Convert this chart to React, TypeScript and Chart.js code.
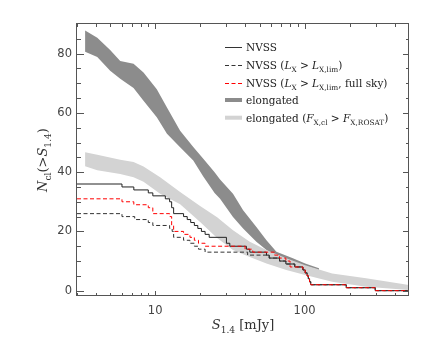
import React, { useEffect, useRef } from 'react';
import { Chart, registerables } from 'chart.js';

Chart.register(...registerables);

// ---------- data ----------
const X_MIN = 3;
const X_MAX = 500;
const Y_MIN = -1.8;
const Y_MAX = 90;

const X_TICK_LABELS = [10, 100];
const X_MINOR = [3, 4, 5, 6, 7, 8, 9, 20, 30, 40, 50, 60, 70, 80, 90, 200, 300, 400, 500];
const Y_TICK_LABELS = [0, 20, 40, 60, 80];

// elongated (dark band)
const darkS = [3.4, 4.1, 5.0, 5.84, 7.17, 8.36, 10.26, 12.0, 14.7, 18, 21, 25, 27.2, 33.2, 38.8, 47.6, 55.6, 64.8, 83.5, 101, 125];
const darkUpper = [87.8, 85.4, 81.2, 77.5, 76.6, 73.6, 68, 61.8, 54, 48.5, 44.5, 40, 37.5, 32.7, 27.1, 21.5, 17, 13.1, 10.9, 9.2, 7.6];
const darkLower = [80.6, 78.9, 74.2, 71.5, 68.4, 64.1, 58.5, 53, 48.4, 43.9, 38.5, 33, 31, 24.9, 21, 16.5, 13.7, 11.4, 9.8, 8.3, 7.0];

// elongated (F_X,cl > F_X,ROSAT) (light band)
const lightS = [3.4, 4.1, 5.84, 7.17, 8.36, 10.8, 14.7, 20, 26, 33.2, 43, 55.6, 75.5, 101, 153, 258, 500];
const lightUpper = [46.7, 45.9, 44.2, 43.4, 41.9, 38.3, 33.3, 28.6, 24.8, 20.4, 16.5, 13.7, 10.9, 8.6, 5.8, 4.2, 1.9];
const lightLower = [42.0, 40.6, 39.4, 38.3, 36.8, 32.7, 29.2, 23.2, 17.8, 13.7, 11.4, 9.2, 7.0, 5.3, 3.0, 1.3, 0.2];

// NVSS (solid)
const nvssS = [3, 6.0, 7.2, 9.0, 9.65, 11.7, 12.5, 12.9, 13.3, 15.5, 16.4, 17.3, 18.3, 19.3, 20.4, 21.6, 23.0, 30.0, 31.6, 40.8, 43, 55.6, 58, 68, 75, 86, 97.5, 101, 104, 106, 108, 110, 190, 297, 500];
const nvssN = [36, 35, 34, 33, 32, 31, 30, 28, 26, 25, 24, 23, 22, 21, 20, 19, 18, 16, 15, 14, 13, 12, 11, 10, 9, 8, 7, 6, 5, 4, 3, 2, 1, 0, 0];

// NVSS (L_X > L_X,lim) (black dashed)
const lxS = [3, 6.0, 7.3, 9.0, 9.65, 12.5, 13.0, 13.3, 15.5, 17.1, 18.3, 19.5, 21.6, 41.6, 58, 68, 75, 86, 97.5, 101, 104, 106, 108, 110, 190, 297, 500];
const lxN = [26, 25, 24, 23, 22, 21, 20, 18, 17, 16, 15, 14, 13, 12, 11, 10, 9, 8, 7, 6, 5, 4, 3, 2, 1, 0, 0];

// NVSS (L_X > L_X,lim, full sky) (red dashed)
const redS = [3, 6.0, 7.2, 9.0, 9.65, 12.5, 12.9, 13.3, 15.5, 17.1, 18.3, 19.5, 21.6, 40, 45, 63, 68, 75, 80, 97.5, 101, 104, 106, 108, 110, 190, 297, 500];
const redN = [31, 30, 29, 28, 26, 25, 22, 20, 19, 18, 17, 16, 15, 14, 13, 12, 11, 10, 8, 7, 6, 5, 4, 3, 2, 1, 0, 0];

type Seg = { t: string; it?: boolean; sub?: boolean };

const LEGEND_LABELS: Seg[][] = [
  [{ t: 'NVSS' }],
  [{ t: 'NVSS (' }, { t: 'L', it: true }, { t: 'X', sub: true }, { t: ' > ' }, { t: 'L', it: true }, { t: 'X,lim', sub: true }, { t: ')' }],
  [{ t: 'NVSS (' }, { t: 'L', it: true }, { t: 'X', sub: true }, { t: ' > ' }, { t: 'L', it: true }, { t: 'X,lim', sub: true }, { t: ', full sky)' }],
  [{ t: 'elongated' }],
  [{ t: 'elongated (' }, { t: 'F', it: true }, { t: 'X,cl', sub: true }, { t: ' > ' }, { t: 'F', it: true }, { t: 'X,ROSAT', sub: true }, { t: ')' }],
];
const X_TITLE: Seg[] = [{ t: 'S', it: true }, { t: '1.4', sub: true }, { t: ' [mJy]' }];
const Y_TITLE: Seg[] = [{ t: 'N', it: true }, { t: 'cl', sub: true }, { t: '(>' }, { t: 'S', it: true }, { t: '1.4', sub: true }, { t: ')' }];

const SERIF = '"DejaVu Serif", serif';
const DARK = 'rgb(140,140,140)';
const LIGHT = 'rgb(211,211,211)';
const AXIS = '#555';

const pts = (xs: number[], ys: number[]) => xs.map((v, i) => ({ x: v, y: ys[i] }));

function richWidth(ctx: CanvasRenderingContext2D, segs: Seg[], size: number) {
  let w = 0;
  for (const s of segs) {
    ctx.font = `${s.it ? 'italic ' : ''}${s.sub ? size * 0.7 : size}px ${SERIF}`;
    w += ctx.measureText(s.t).width;
  }
  return w;
}

function drawRich(ctx: CanvasRenderingContext2D, segs: Seg[], x: number, baseline: number, size: number, center: boolean) {
  const w = richWidth(ctx, segs, size);
  let cx = center ? x - w / 2 : x;
  ctx.textBaseline = 'alphabetic';
  ctx.textAlign = 'left';
  for (const s of segs) {
    ctx.font = `${s.it ? 'italic ' : ''}${s.sub ? size * 0.7 : size}px ${SERIF}`;
    ctx.fillText(s.t, cx, baseline + (s.sub ? size * 0.3 : 0));
    cx += ctx.measureText(s.t).width;
  }
}

const decorPlugin = {
  id: 'decor',
  afterDatasetsDraw(chart: any) {
    const { ctx, chartArea: a, scales } = chart;
    const xs = scales.x;
    const ys = scales.y;
    ctx.save();
    ctx.strokeStyle = AXIS;
    ctx.lineWidth = 1;
    ctx.strokeRect(a.left - 0.5, a.top - 0.5, a.right - a.left + 0, a.bottom - a.top);
    ctx.beginPath();
    const xt = [...X_MINOR.map((v) => [v, 3]), ...X_TICK_LABELS.map((v) => [v, 5])];
    for (const [v, len] of xt) {
      const px = Math.round(xs.getPixelForValue(v)) + 0.5;
      if (px < a.left || px > a.right) continue;
      ctx.moveTo(px, a.bottom);
      ctx.lineTo(px, a.bottom - len);
      ctx.moveTo(px, a.top);
      ctx.lineTo(px, a.top + len);
    }
    for (let v = 0; v <= 85; v += 5) {
      const major = v % 20 === 0;
      const py = Math.round(ys.getPixelForValue(v)) + 0.5;
      ctx.moveTo(a.left, py);
      ctx.lineTo(a.left + (major ? 7 : 4), py);
      ctx.moveTo(a.right, py);
      ctx.lineTo(a.right - (major ? 6 : 3), py);
    }
    ctx.stroke();

    // axis titles
    ctx.fillStyle = '#333';
    drawRich(ctx, X_TITLE, (a.left + a.right) / 2, 329, 13, true);
    ctx.save();
    ctx.translate(47, (a.top + a.bottom) / 2);
    ctx.rotate(-Math.PI / 2);
    drawRich(ctx, Y_TITLE, 0, 0, 13, true);
    ctx.restore();

    // legend
    const rows = [47.3, 65, 82.7, 100, 117.7];
    const x0 = 225;
    const x1 = 242;
    rows.forEach((ry, i) => {
      ctx.save();
      if (i < 3) {
        ctx.strokeStyle = i === 2 ? '#ff0000' : '#333';
        ctx.lineWidth = 1;
        ctx.setLineDash(i === 0 ? [] : [4, 2.5]);
        ctx.beginPath();
        ctx.moveTo(x0, Math.round(ry) + 0.5);
        ctx.lineTo(x1, Math.round(ry) + 0.5);
        ctx.stroke();
      } else {
        ctx.fillStyle = i === 3 ? DARK : LIGHT;
        ctx.fillRect(x0, ry - 2, x1 - x0, 4);
      }
      ctx.restore();
      ctx.fillStyle = '#222';
      drawRich(ctx, LEGEND_LABELS[i], 246, ry + 3.8, 10.5, false);
    });
    ctx.restore();
  },
};

export default function App() {
  const ref = useRef<HTMLCanvasElement>(null);
  useEffect(() => {
    if (!ref.current) return;
    const lineBase = { pointRadius: 0, fill: false, stepped: 'before' as const, borderWidth: 1 };
    const bandBase = { pointRadius: 0, borderWidth: 0, borderColor: 'rgba(0,0,0,0)', tension: 0 };
    const chart = new Chart(ref.current, {
      type: 'line',
      data: {
        datasets: [
          { ...lineBase, label: 'NVSS full sky', data: pts(redS, redN), borderColor: '#ff0000', borderDash: [4, 2.5] },
          { ...lineBase, label: 'NVSS LX', data: pts(lxS, lxN), borderColor: '#333', borderDash: [4, 2.5] },
          { ...lineBase, label: 'NVSS', data: pts(nvssS, nvssN), borderColor: '#222' },
          { ...bandBase, label: 'light upper', data: pts(lightS, lightUpper), fill: '+1', backgroundColor: LIGHT },
          { ...bandBase, label: 'light lower', data: pts(lightS, lightLower), fill: false },
          { ...bandBase, label: 'dark upper', data: pts(darkS, darkUpper), fill: '+1', backgroundColor: DARK },
          { ...bandBase, label: 'dark lower', data: pts(darkS, darkLower), fill: false },
        ] as any,
      },
      options: {
        responsive: false,
        animation: false,
        devicePixelRatio: 1,
        layout: { padding: { left: 0, right: 23, top: 24, bottom: 0 } },
        plugins: { legend: { display: false }, tooltip: { enabled: false } },
        scales: {
          x: {
            type: 'logarithmic',
            min: X_MIN,
            max: X_MAX,
            grid: { display: false, drawTicks: false },
            border: { display: false },
            ticks: {
              font: { family: '"DejaVu Sans", sans-serif', size: 11.5 },
              color: '#444',
              padding: 8,
              maxRotation: 0,
              autoSkip: false,
              callback: (v: any) => String(v),
            },
            afterBuildTicks: (s: any) => {
              s.ticks = X_TICK_LABELS.map((v) => ({ value: v }));
            },
            afterFit: (s: any) => {
              s.height = 49;
            },
          },
          y: {
            type: 'linear',
            min: Y_MIN,
            max: Y_MAX,
            grid: { display: false, drawTicks: false },
            border: { display: false },
            ticks: {
              font: { family: '"DejaVu Sans", sans-serif', size: 11.5 },
              color: '#444',
              padding: 5,
              callback: (v: any) => String(v),
            },
            afterBuildTicks: (s: any) => {
              s.ticks = Y_TICK_LABELS.map((v) => ({ value: v }));
            },
            afterFit: (s: any) => {
              s.width = 77;
            },
          },
        },
      },
      plugins: [decorPlugin],
    });
    return () => chart.destroy();
  }, []);
  return (
    <div style={{ position: 'absolute', left: 0, top: 0, width: 432, height: 345, background: '#fff' }}>
      <canvas ref={ref} width={432} height={345} style={{ display: 'block' }} />
    </div>
  );
}
